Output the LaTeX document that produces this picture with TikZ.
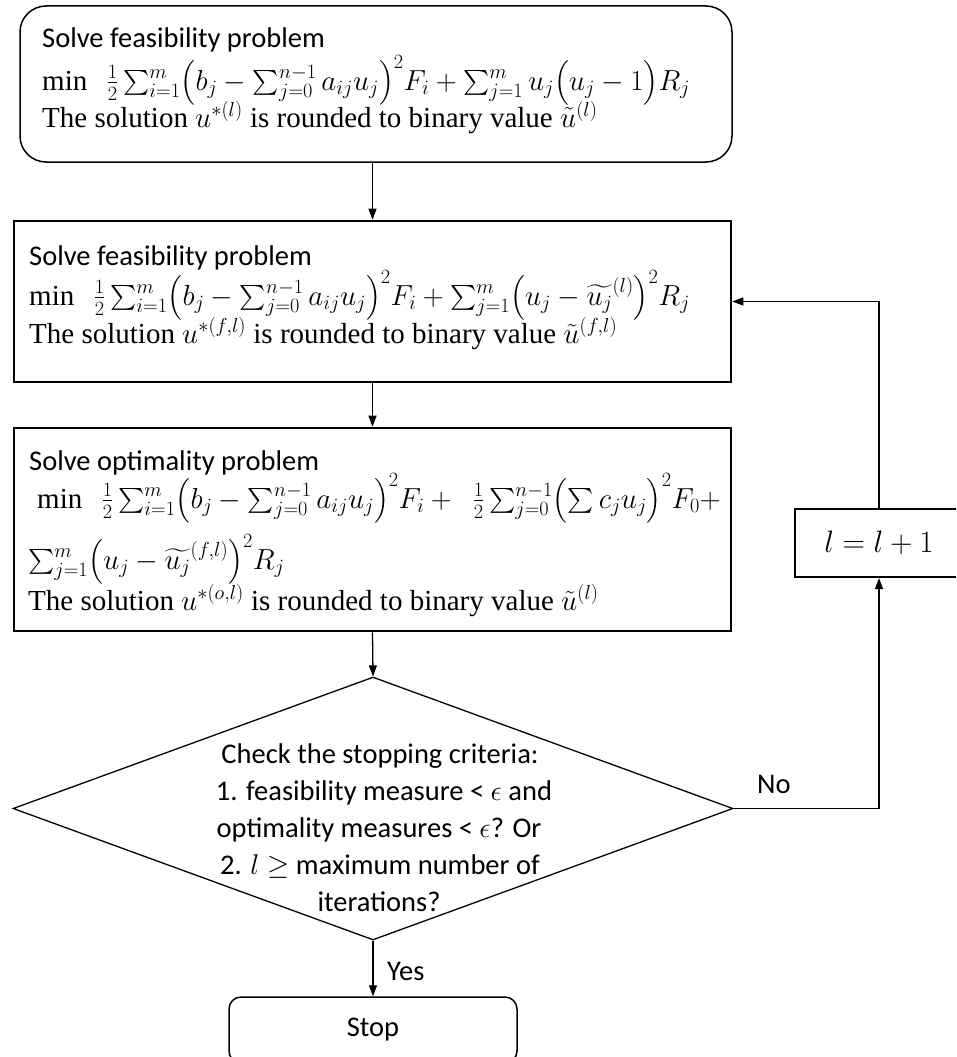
\documentclass[tikz,border=0pt]{standalone}
\usepackage{fix-cm}
\usepackage{amsmath}
\usepackage{fontspec}
\setmainfont{Liberation Serif}
\newfontfamily\calibri{Carlito}
\usetikzlibrary{shapes.geometric,arrows.meta}
\tikzset{
  cal/.style={font=\calibri\fontsize{28.5}{37}\selectfont, inner sep=0pt},
  tms/.style={font=\fontsize{29}{37}\selectfont, inner sep=0pt},
  rbox/.style={draw, rounded corners=26pt, line width=1.5pt, inner sep=0pt},
  sbox/.style={draw, line width=2.6pt, inner sep=0pt},
  dbox/.style={draw, diamond, line width=1.3pt, inner sep=0pt},
  arr/.style={-{Triangle[length=11pt,width=8pt]}, line width=1.3pt},
  ln/.style={line width=1.3pt}
}
\begin{document}
\begin{tikzpicture}[x=1pt,y=-1pt]
\useasboundingbox (0,0) rectangle (956,1057);
\clip (0,0) rectangle (956,1057);
% boxes
\node[rbox, minimum width=712pt, minimum height=156pt] (b1) at (376,84) {};
\node[sbox, minimum width=717pt, minimum height=161pt] (b2) at (372.5,301.5) {};
\node[sbox, minimum width=717pt, minimum height=203pt] (b3) at (372.5,529.5) {};
\node[dbox, minimum width=720pt, minimum height=263pt] (d) at (373,808.5) {};
\node[sbox, line width=2.2pt, minimum width=168pt, minimum height=68pt, font=\fontsize{31}{37}\selectfont] (inc) at (879,543) {$l=l+1$};
\node[draw, rounded corners=12pt, line width=1.5pt, minimum width=288pt, minimum height=66pt, cal] (stop) at (373,1030) {Stop};
% box 1 text
\node[cal, anchor=base west] (t1a) at (42,48) {Solve feasibility problem};
\node[tms, anchor=base west] (t1b) at (42,90) {$\min\ \ \frac{1}{2}\sum_{i=1}^{m}\bigl(b_j-\sum_{j=0}^{n-1}a_{ij}u_j\bigr)^2F_i+\sum_{j=1}^{m}u_j\bigl(u_j-1\bigr)R_j$};
\node[tms, anchor=base west] (t1c) at (42,127) {The solution $u^{*(l)}$ is rounded to binary value $\tilde{u}^{(l)}$};
% box 2 text
\node[cal, anchor=base west] (t2a) at (29,265) {Solve feasibility problem};
\node[tms, anchor=base west] (t2b) at (29,305) {$\min\ \ \frac{1}{2}\sum_{i=1}^{m}\bigl(b_j-\sum_{j=0}^{n-1}a_{ij}u_j\bigr)^2F_i+\sum_{j=1}^{m}\bigl(u_j-\widetilde{u_j}^{(l)}\bigr)^2R_j$};
\node[tms, anchor=base west] (t2c) at (29,343) {The solution $u^{*(f,l)}$ is rounded to binary value $\tilde{u}^{(f,l)}$};
% box 3 text
\node[cal, anchor=base west] (t3a) at (29,470) {Solve optimality problem};
\node[tms, anchor=base west] (t3b) at (37,508) {$\min\ \ \frac{1}{2}\sum_{i=1}^{m}\bigl(b_j-\sum_{j=0}^{n-1}a_{ij}u_j\bigr)^2F_i+\ \ \frac{1}{2}\sum_{j=0}^{n-1}\bigl(\sum c_ju_j\bigr)^2F_0+$};
\node[tms, anchor=base west] (t3c) at (28,569) {$\sum_{j=1}^{m}\bigl(u_j-\widetilde{u_j}^{(f,l)}\bigr)^2R_j$};
\node[tms, anchor=base west] (t3d) at (28,610) {The solution $u^{*(o,l)}$ is rounded to binary value $\tilde{u}^{(l)}$};
% diamond text
\node[cal, anchor=base] (d1) at (380,763) {Check the stopping criteria:};
\node[cal, anchor=base] (d2) at (384,800) {1. feasibility measure < $\epsilon$ and};
\node[cal, anchor=base] (d3) at (379,837) {optimality measures < $\epsilon$? Or};
\node[cal, anchor=base] (d4) at (380,874) {2. $l\geq$\ maximum number of};
\node[cal, anchor=base] (d5) at (379,911) {iterations?};
% labels
\node[cal, anchor=base west] (yes) at (387,980) {Yes};
\node[cal, anchor=base west] (no) at (757,793) {No};
% connectors
\draw[arr] (b1.south -| b2.north) -- (b2.north);
\draw[arr] (b2.south) -- (b3.north);
\draw[arr] (b3.south) -- (d.north);
\draw[arr] (d.south) -- (stop.north);
\draw[arr] (d.east) -| (inc.south);
\draw[arr] (inc.north) |- (b2.east);
\end{tikzpicture}
\end{document}
